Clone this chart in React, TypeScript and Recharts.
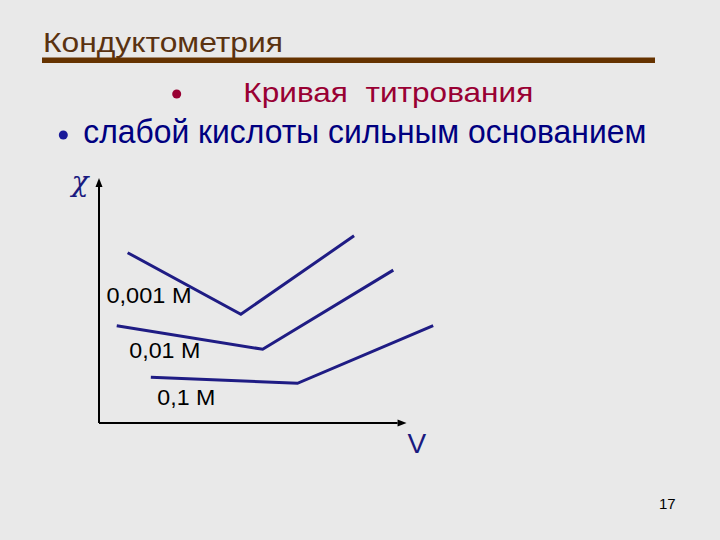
import React from "react"
import { LineChart, Line, XAxis, YAxis, ReferenceLine, ReferenceDot } from "recharts"

// conductometric titration curves (V, χ) in arbitrary units
const curve0001 = [
  { v: 8.4, chi: 69.5 },
  { v: 41.6, chi: 44.4 },
  { v: 74.8, chi: 76.4 },
]
const curve001 = [
  { v: 5.2, chi: 39.7 },
  { v: 48.0, chi: 30.1 },
  { v: 86.3, chi: 62.4 },
]
const curve01 = [
  { v: 15.2, chi: 18.7 },
  { v: 58.2, chi: 16.2 },
  { v: 98.0, chi: 39.7 },
]
const curveLabels = ["0,001 M", "0,01 M", "0,1 M"]

// where each label sits (data coords, left/baseline) and how wide it is drawn
const labelAnchors = [
  { v: 2.2, chi: 48.9, w: 85 },
  { v: 8.9, chi: 26.4, w: 71 },
  { v: 17.1, chi: 7.3, w: 58 },
]

const LINE = "#1f1c84"
const SANS = { fontFamily: "'Liberation Sans'" }
const SERIF = { fontFamily: "'DejaVu Serif'" }

// axis line with a small arrow head at its end
const arrowLine = (props: any) => {
  const { x1, y1, x2, y2 } = props
  const dx = x2 - x1
  const dy = y2 - y1
  const len = Math.sqrt(dx * dx + dy * dy) || 1
  const ux = dx / len
  const uy = dy / len
  const hl = 9
  const hw = 3.5
  const bx = x2 - ux * hl
  const by = y2 - uy * hl
  return (
    <g>
      <line x1={x1} y1={y1} x2={bx} y2={by} stroke="#000" strokeWidth={2} />
      <polygon
        points={`${x2},${y2} ${bx - uy * hw},${by + ux * hw} ${bx + uy * hw},${by - ux * hw}`}
        fill="#000"
      />
    </g>
  )
}

const labelShape = (text: string, w: number) => (props: any) => (
  <text
    x={props.cx}
    y={props.cy}
    fill="#000"
    style={SANS}
    fontSize={22}
    textLength={w}
    lengthAdjust="spacingAndGlyphs"
  >
    {text}
  </text>
)

export default function App() {
  return (
    <div
      style={{
        position: "absolute",
        left: 0,
        top: 0,
        width: 720,
        height: 540,
        background: "#e9e9e9",
        overflow: "hidden",
      }}
    >
      <svg width={720} height={540} style={{ position: "absolute", left: 0, top: 0 }}>
        <text x={43} y={52} fill="#5a3210" style={SANS} fontSize={27.5} textLength={240} lengthAdjust="spacingAndGlyphs">
          Кондуктометрия
        </text>
        <rect x={42} y={57.5} width={613} height={5.5} fill="#663300" />
        <circle cx={176.7} cy={94} r={4.5} fill="#990033" />
        <text
          x={243.3}
          y={101.7}
          fill="#990033"
          fontSize={27.5}
          textLength={290}
          lengthAdjust="spacingAndGlyphs"
          style={{ ...SANS, whiteSpace: "pre" }}
        >
          {"Кривая  титрования"}
        </text>
        <circle cx={63.3} cy={135} r={4.5} fill="#1a1a99" />
        <text x={83.3} y={143.3} fill="#000080" style={SANS} fontSize={34} textLength={563} lengthAdjust="spacingAndGlyphs">
          слабой кислоты сильным основанием
        </text>
        <text x={71.5} y={190.5} fill="#1a1a80" style={{ ...SERIF, fontStyle: "italic" }} fontSize={28}>
          χ
        </text>
        <text x={407.5} y={453} fill="#1a1a80" style={SANS} fontSize={28}>
          V
        </text>
        <text x={659} y={509} fill="#000" style={SANS} fontSize={15}>
          17
        </text>
      </svg>
      <div style={{ position: "absolute", left: 0, top: 0 }}>
        <LineChart width={720} height={540} margin={{ top: 178, right: 280, bottom: 117, left: 99 }}>
          <XAxis type="number" dataKey="v" domain={[0, 100]} hide />
          <YAxis type="number" dataKey="chi" domain={[0, 100]} hide />
          <ReferenceLine segment={[{ x: 0, y: 0 }, { x: 90.2, y: 0 }]} shape={arrowLine} />
          <ReferenceLine segment={[{ x: 0, y: 0 }, { x: 0, y: 100 }]} shape={arrowLine} />
          <Line data={curve0001} dataKey="chi" stroke={LINE} strokeWidth={3} dot={false} isAnimationActive={false} />
          <Line data={curve001} dataKey="chi" stroke={LINE} strokeWidth={3} dot={false} isAnimationActive={false} />
          <Line data={curve01} dataKey="chi" stroke={LINE} strokeWidth={3} dot={false} isAnimationActive={false} />
          {curveLabels.map((t, i) => (
            <ReferenceDot
              key={t}
              x={labelAnchors[i].v}
              y={labelAnchors[i].chi}
              r={0}
              shape={labelShape(t, labelAnchors[i].w)}
            />
          ))}
        </LineChart>
      </div>
    </div>
  )
}
